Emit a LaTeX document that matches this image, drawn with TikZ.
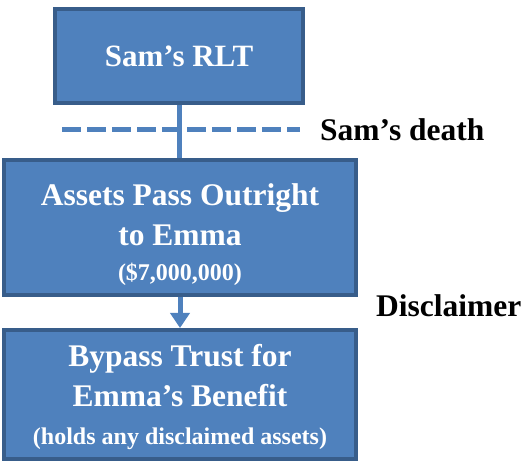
\documentclass[tikz,border=0pt]{standalone}
\usepackage{fontspec}
\setmainfont{Liberation Serif}
\usetikzlibrary{arrows.meta}
\definecolor{boxfill}{HTML}{4F81BD}
\definecolor{boxline}{HTML}{385D8A}
\begin{document}
\begin{tikzpicture}[x=1pt,y=1pt,
  box/.style={draw=boxline, fill=boxfill, line width=4pt, inner sep=0pt},
  boxtext/.style={text=white, font=\bfseries\fontsize{31.5}{40}\selectfont, align=center, inner sep=0pt},
  small/.style={font=\bfseries\fontsize{24}{28}\selectfont},
  conn/.style={draw=boxfill, line width=5pt},
  lbl/.style={font=\bfseries\fontsize{31.5}{36}\selectfont, anchor=west, inner sep=0pt, text=black}]
\useasboundingbox (0,0) rectangle (525,461);
\coordinate (dl) at (62,331);
\coordinate (dr) at (300,331);
\draw[conn, dash pattern=on 19pt off 6pt] (dl) -- (dr);
\node[box, minimum width=248, minimum height=94, text=white, font=\bfseries\fontsize{31}{38}\selectfont] (rlt) at (179,405) {Sam’s RLT};
\node[box, minimum width=352, minimum height=135] (mid) at (180,233.5) {};
\node[boxtext] (midtext) at (180,226.5)
  {Assets Pass Outright\\to Emma\\[-5pt]{\fontsize{24}{28}\selectfont (\$7,000,000)}};
\node[box, minimum width=352, minimum height=129] (bot) at (180,66.5) {};
\node[boxtext] (bottext) at (180,64.5)
  {Bypass Trust for\\Emma’s Benefit\\[-2pt]{\fontsize{24}{28}\selectfont (holds any disclaimed assets)}};
\draw[conn] (rlt.south) -- (rlt.south |- mid.north);
\draw[conn, -{Triangle[width=19pt,length=15pt]}] (mid.south) -- (bot.north);
\node[lbl] (death) at (320,331) {Sam’s death};
\node[lbl] (disc) at (376,155) {Disclaimer};
\end{tikzpicture}
\end{document}
